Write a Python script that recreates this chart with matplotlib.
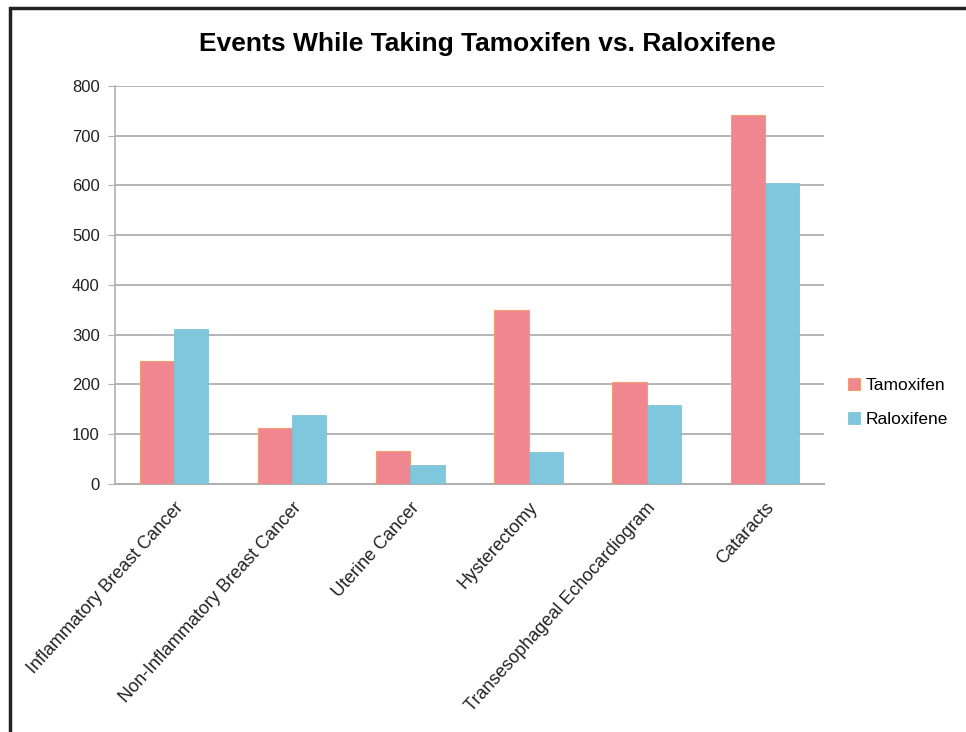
import matplotlib.pyplot as plt
import numpy as np
from matplotlib.patches import Rectangle

categories = ['Inflammatory Breast Cancer', 'Non-Inflammatory Breast Cancer',
              'Uterine Cancer', 'Hysterectomy',
              'Transesophageal Echocardiogram', 'Cataracts']
tamoxifen = [247, 113, 66, 350, 204, 742]
raloxifene = [311, 138, 37, 64, 158, 605]
series_names = ['Tamoxifen', 'Raloxifene']
yticks = [0, 100, 200, 300, 400, 500, 600, 700, 800]

plt.rcParams['font.family'] = ['Liberation Sans', 'DejaVu Sans']

fig = plt.figure(figsize=(9.66, 7.32), dpi=100)
ax = fig.add_axes([0.119, 0.339, 0.734, 0.5435])

x = np.arange(len(categories))
w = 0.29
ax.bar(x - w / 2, tamoxifen, w, color='#f08690', edgecolor='#f0a070',
       linewidth=0.8, label=series_names[0], zorder=3)
ax.bar(x + w / 2, raloxifene, w, color='#7ec7dd', edgecolor='#78bcd2',
       linewidth=0.5, label=series_names[1], zorder=3)

ax.set_xlim(-0.5, len(categories) - 0.5)
ax.set_ylim(0, 800)
ax.set_yticks(yticks)
ax.yaxis.grid(True, color='#a8a8a8', linewidth=1.2, zorder=0)
ax.set_axisbelow(True)

for s in ['top', 'right']:
    ax.spines[s].set_visible(False)
ax.spines['left'].set_color('#b0b0b0')
ax.spines['bottom'].set_color('#b0b0b0')
ax.spines['left'].set_linewidth(1.2)
ax.spines['bottom'].set_linewidth(1.5)

ax.tick_params(axis='y', length=5, color='#b0b0b0', labelsize=12,
               labelcolor='#222222', pad=6)
ax.tick_params(axis='x', length=0, labelsize=13, labelcolor='#222222', pad=11)
ax.set_xticks(x)
ax.set_xticklabels(categories, rotation=48, ha='right', rotation_mode='anchor')

# title is centred on the whole picture, not on the axes
fig.text(0.505, 0.94, 'Events While Taking Tamoxifen vs. Raloxifene',
         fontsize=19, fontweight='bold', ha='center', va='center')

ax.legend(loc='center left', bbox_to_anchor=(0.862, 0.45),
          bbox_transform=fig.transFigure, frameon=False, fontsize=12.5,
          handlelength=0.7, handleheight=0.7, handletextpad=0.3,
          labelspacing=1.1)

# black frame around the picture (cropped at right and bottom)
fig.patches.append(Rectangle((0.0105, -0.1), 1.2, 1.089, transform=fig.transFigure,
                             fill=False, edgecolor='#222222', linewidth=2.5))

fig.savefig('out.png', dpi=100)
